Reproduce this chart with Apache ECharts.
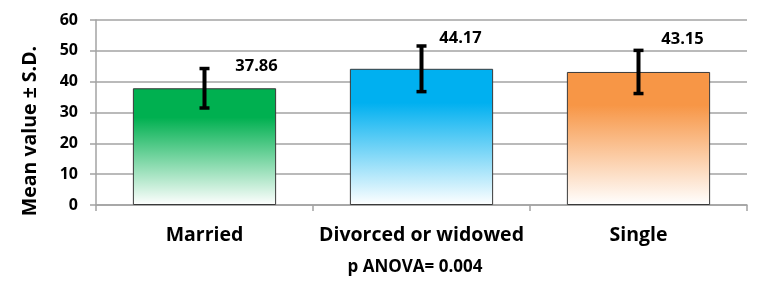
<!DOCTYPE html>
<html><head><meta charset="utf-8">
<script src="https://cdn.jsdelivr.net/npm/echarts@6/dist/echarts.min.js"></script>
<style>html,body{margin:0;padding:0;background:#fff}#c{width:764px;height:297px}</style>
</head><body><div id="c"></div>
<script>
// ---- data ----
const categories = ['Married', 'Divorced or widowed', 'Single'];
const means = [37.86, 44.17, 43.15];
const sds = [6.4, 7.4, 7.0];
const valueLabels = ['37.86', '44.17', '43.15'];
const yTicks = [0, 10, 20, 30, 40, 50, 60];
const yTitle = 'Mean value \u00b1 S.D.';
const footnote = 'p ANOVA= 0.004';

// ---- styling ----
const barColors = ['#00b050', '#00b0f0', '#f79646'];
const labelOffsets = [[52, -2], [39, -8], [44, -11]];
const FONT = '"Open Sans"';
const gray = '#a3a3a3';

function grad(c) {
  return new echarts.graphic.LinearGradient(0, 0, 0, 1, [
    { offset: 0, color: c }, { offset: 0.25, color: c }, { offset: 1, color: '#ffffff' }
  ]);
}

const chart = echarts.init(document.getElementById('c'), null, { renderer: 'canvas' });
chart.setOption({
  animation: false,
  backgroundColor: '#ffffff',
  grid: { left: 96, right: 17, top: 20, bottom: 92 },
  xAxis: {
    type: 'category', data: categories, boundaryGap: true,
    axisLine: { lineStyle: { color: gray, width: 1.5 } },
    axisTick: { show: true, length: 6, lineStyle: { color: gray, width: 1.5 } },
    axisLabel: { interval: 0, fontFamily: FONT, fontWeight: 'bold', fontSize: 19.5, color: '#000', margin: 20 }
  },
  yAxis: {
    type: 'value', min: yTicks[0], max: yTicks[yTicks.length - 1], interval: 10,
    axisLine: { show: true, lineStyle: { color: gray, width: 1.5 } },
    axisTick: { show: true, length: 6, lineStyle: { color: gray, width: 1.5 } },
    splitLine: { lineStyle: { color: gray, width: 1.5 } },
    axisLabel: { fontFamily: FONT, fontWeight: 'bold', fontSize: 16, color: '#000', margin: 18 }
  },
  graphic: [
    { type: 'text', x: 30, y: 131, rotation: Math.PI / 2,
      style: { text: yTitle, font: 'bold 19.5px ' + FONT, fill: '#000', align: 'center', verticalAlign: 'middle' } },
    { type: 'text', x: 415, y: 267,
      style: { text: footnote, font: 'bold 17px ' + FONT, fill: '#000', align: 'center', verticalAlign: 'middle' } }
  ],
  series: [
    {
      type: 'bar', barCategoryGap: '34%',
      data: means.map((v, i) => ({
        value: v,
        itemStyle: { color: grad(barColors[i]), borderColor: '#3a3a3a', borderWidth: 1 }
      }))
    },
    {
      type: 'custom', z: 10,
      data: means.map((m, i) => [i, m, sds[i]]),
      encode: { x: 0, y: 1 },
      renderItem: function (params, api) {
        const i = api.value(0), m = api.value(1), s = api.value(2);
        const top = api.coord([i, m + s]);
        const bot = api.coord([i, m - s]);
        const x = top[0];
        const cap = 5;
        const off = labelOffsets[i];
        return {
          type: 'group',
          children: [
            { type: 'line', shape: { x1: x, y1: top[1], x2: x, y2: bot[1] }, style: { stroke: '#000', lineWidth: 4 } },
            { type: 'line', shape: { x1: x - cap, y1: top[1], x2: x + cap, y2: top[1] }, style: { stroke: '#000', lineWidth: 3.5 } },
            { type: 'line', shape: { x1: x - cap, y1: bot[1], x2: x + cap, y2: bot[1] }, style: { stroke: '#000', lineWidth: 3.5 } },
            { type: 'text', x: x + off[0], y: top[1] + off[1],
              style: { text: valueLabels[i], font: 'bold 16.5px ' + FONT, fill: '#000', align: 'center', verticalAlign: 'middle' } }
          ]
        };
      }
    }
  ]
});
</script></body></html>
